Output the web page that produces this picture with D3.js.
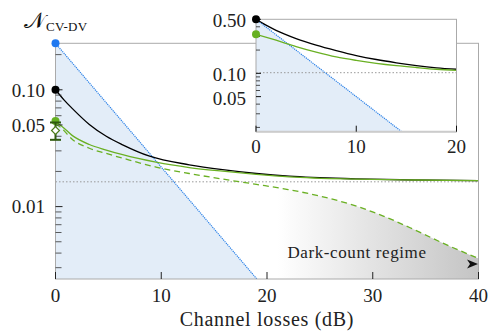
<!DOCTYPE html>
<html>
<head>
<meta charset="utf-8">
<script src="https://cdn.jsdelivr.net/npm/d3@7"></script>
<style>
  body { margin: 0; background: #fff; }
</style>
</head>
<body>
<svg id="canvas" width="488" height="332"></svg>
<script>
// ---- data ----
// main panel: x = channel losses (dB), y = N_CV-DV (log)
const blueLine = [[0, 0.25], [20, 0.0019]];
const blackCurve = [[0, 0.1], [0.8, 0.082], [1.6, 0.069], [3.2, 0.0505], [4.8, 0.0400], [6.35, 0.0338],
  [8.9, 0.0270], [12.65, 0.0228], [15.8, 0.0207], [19, 0.0192], [22.1, 0.0182], [28.4, 0.0173],
  [34, 0.0169], [40, 0.0167]];
const greenCurve = [[0, 0.053], [0.5, 0.0495], [1.6, 0.0405], [3.2, 0.0340], [4.8, 0.0305], [6.35, 0.0278],
  [9.5, 0.0240], [12.65, 0.0216], [15.8, 0.0201], [19, 0.0189], [22.1, 0.0180], [28.4, 0.0172],
  [34, 0.0169], [40, 0.0167]];
const greenDashed = [[0, 0.051], [0.5, 0.0475], [1.6, 0.0375], [3.2, 0.0316], [4.8, 0.0285], [6.35, 0.0260],
  [9.5, 0.0218], [12.65, 0.0192], [15.8, 0.0172], [19, 0.0155], [22, 0.0140], [25, 0.0123],
  [28, 0.0104], [31, 0.0083], [34, 0.0063], [37, 0.0047], [40, 0.0036]];
const dottedLevel = 0.0163;
const startDots = [{ y: 0.25, c: "#1f78f0" }, { y: 0.1, c: "#000" }, { y: 0.054, c: "#66b022" }];
const expPoint = { y: 0.0448, lo: 0.0373, hi: 0.0525 };

const xTicks = [0, 10, 20, 30, 40];
const yLabels = [0.1, 0.05, 0.01];
const yMinor = [0.003, 0.004, 0.005, 0.006, 0.007, 0.008, 0.009, 0.02, 0.03, 0.04, 0.06, 0.07, 0.08, 0.09, 0.2];

// inset panel
const insetBlue = [[0, 0.5], [20, 0.005]];
const insetBlack = [[0, 0.5], [1, 0.42], [2, 0.36], [4, 0.282], [6, 0.232], [8, 0.197], [10, 0.170],
  [12, 0.151], [14, 0.137], [16, 0.126], [18, 0.118], [20, 0.113]];
const insetGreen = [[0, 0.32], [2, 0.268], [4, 0.222], [6, 0.188], [8, 0.163], [10, 0.147],
  [12, 0.135], [14, 0.126], [16, 0.119], [18, 0.113], [20, 0.109]];
const insetDotted = 0.102;
const insetXTicks = [0, 10, 20];
const insetYLabels = [0.5, 0.1, 0.05];
const insetYMinor = [0.02, 0.03, 0.04, 0.06, 0.07, 0.08, 0.09, 0.2, 0.3, 0.4];

const FONT = "Liberation Serif";

const svg = d3.select("svg#canvas");
const fmt = d3.format(".2f");

const x = d3.scaleLinear().domain([0, 40]).range([55.5, 478.5]);
const y = d3.scaleLog().domain([0.0024, 0.25]).range([279, 43.3]);

const defs = svg.append("defs");
defs.append("clipPath").attr("id", "clipMain").append("rect")
  .attr("x", x(0)).attr("y", y(0.25)).attr("width", x(40) - x(0)).attr("height", y(0.0024) - y(0.25));

const grad = defs.append("linearGradient").attr("id", "dark")
  .attr("gradientUnits", "userSpaceOnUse")
  .attr("x1", x(21)).attr("x2", x(40)).attr("y1", 0).attr("y2", 0);
grad.append("stop").attr("offset", 0).attr("stop-color", "#fff");
grad.append("stop").attr("offset", 1).attr("stop-color", "#c4c4c4");

const line = (sx, sy) => d3.line().x((d) => sx(d[0])).y((d) => sy(d[1])).curve(d3.curveMonotoneX);

const main = svg.append("g").attr("clip-path", "url(#clipMain)");

// blue shaded region below the blue bound
main.append("path")
  .datum(blueLine)
  .attr("fill", "#e3edf8")
  .attr("d", d3.area().x((d) => x(d[0])).y0(y(0.0024)).y1((d) => y(d[1])));

// dark-count region under the dashed curve
main.append("path")
  .datum(greenDashed.filter((d) => d[0] >= 19))
  .attr("fill", "url(#dark)")
  .attr("d", d3.area().x((d) => x(d[0])).y0(y(0.0024)).y1((d) => y(d[1])).curve(d3.curveMonotoneX));

main.append("line")
  .attr("x1", x(0)).attr("x2", x(40)).attr("y1", y(dottedLevel)).attr("y2", y(dottedLevel))
  .attr("stroke", "#999").attr("stroke-width", 1).attr("stroke-dasharray", "1.5,2");

main.append("path").datum(blueLine).attr("fill", "none")
  .attr("stroke", "#2a80e8").attr("stroke-width", 1.2).attr("stroke-dasharray", "1.2,0.9")
  .attr("d", line(x, y));

main.append("path").datum(blackCurve).attr("fill", "none")
  .attr("stroke", "#000").attr("stroke-width", 1.3).attr("d", line(x, y));

main.append("path").datum(greenDashed).attr("fill", "none")
  .attr("stroke", "#6ab023").attr("stroke-width", 1.3).attr("stroke-dasharray", "6,4")
  .attr("d", line(x, y));

main.append("path").datum(greenCurve).attr("fill", "none")
  .attr("stroke", "#6ab023").attr("stroke-width", 1.3).attr("d", line(x, y));

// frame
svg.append("rect")
  .attr("x", x(0)).attr("y", y(0.25)).attr("width", x(40) - x(0)).attr("height", y(0.0024) - y(0.25))
  .attr("fill", "none").attr("stroke", "#aaa").attr("stroke-width", 1);

// x axis ticks (inward)
const xAxis = svg.append("g").attr("font-family", FONT).attr("fill", "#222");
xAxis.selectAll("line").data(xTicks).enter().append("line")
  .attr("x1", (d) => x(d)).attr("x2", (d) => x(d))
  .attr("y1", y(0.0024)).attr("y2", y(0.0024) - 7)
  .attr("stroke", "#222").attr("stroke-width", 1);
xAxis.selectAll("text").data(xTicks).enter().append("text")
  .attr("x", (d) => x(d)).attr("y", 302)
  .attr("text-anchor", "middle").attr("font-size", 19)
  .text((d) => d);

svg.append("text").attr("x", (x(0) + x(40)) / 2).attr("y", 326)
  .attr("font-family", FONT).attr("fill", "#222")
  .attr("text-anchor", "middle").attr("font-size", 20).attr("letter-spacing", 0.7)
  .text("Channel losses (dB)");

// y axis ticks
const yAxis = svg.append("g").attr("font-family", FONT).attr("fill", "#222");
yAxis.selectAll("line.minor").data(yMinor).enter().append("line")
  .attr("x1", x(0)).attr("x2", x(0) + 6)
  .attr("y1", (d) => y(d)).attr("y2", (d) => y(d))
  .attr("stroke", "#333").attr("stroke-width", 0.8);
yAxis.selectAll("line.major").data(yLabels).enter().append("line")
  .attr("x1", x(0)).attr("x2", x(0) + 7)
  .attr("y1", (d) => y(d)).attr("y2", (d) => y(d))
  .attr("stroke", "#222").attr("stroke-width", 1);
yAxis.selectAll("text").data(yLabels).enter().append("text")
  .attr("x", 45).attr("y", (d) => y(d) + 6.8)
  .attr("text-anchor", "end").attr("font-size", 19)
  .text((d) => fmt(d));

// points at zero loss
svg.selectAll("circle.start").data(startDots).enter().append("circle")
  .attr("cx", x(0)).attr("cy", (d) => y(d.y)).attr("r", 4).attr("fill", (d) => d.c);

// experimental point with error bar
const eb = svg.append("g").attr("stroke", "#2f5a0f").attr("stroke-width", 2);
eb.append("line").attr("x1", x(0)).attr("x2", x(0)).attr("y1", y(expPoint.lo)).attr("y2", y(expPoint.hi));
eb.append("line").attr("x1", x(0) - 5.5).attr("x2", x(0) + 5.5).attr("y1", y(expPoint.lo)).attr("y2", y(expPoint.lo));
eb.append("line").attr("x1", x(0) - 5.5).attr("x2", x(0) + 5.5).attr("y1", y(expPoint.hi)).attr("y2", y(expPoint.hi));
svg.append("path")
  .attr("d", d3.symbol(d3.symbolDiamond2, 40)())
  .attr("transform", `translate(${x(0)},${y(expPoint.y)})`)
  .attr("fill", "#fff").attr("stroke", "#4a7a18").attr("stroke-width", 1.2);

// dark-count label and arrow head
svg.append("text").attr("x", 357).attr("y", 258)
  .attr("font-family", FONT).attr("fill", "#222")
  .attr("text-anchor", "middle").attr("font-size", 17).attr("letter-spacing", 0.6)
  .text("Dark-count regime");
svg.append("path")
  .attr("d", "M478,264 L467,259.5 L470,264 L467,268.5 Z")
  .attr("fill", "#111");

// y label
const yl = svg.append("text").attr("x", 24).attr("y", 28).attr("font-size", 22)
  .attr("font-family", FONT).attr("fill", "#111");
yl.append("tspan").text("\u{1D4A9}");
yl.append("tspan").attr("font-size", 13).attr("dy", 3).attr("dx", 1).attr("letter-spacing", 0.3).text("CV-DV");

// ---- inset ----
const xi = d3.scaleLinear().domain([0, 20]).range([256, 456.5]);
const yi = d3.scaleLog().domain([0.0176, 0.5]).range([131.7, 19.3]);

defs.append("clipPath").attr("id", "clipInset").append("rect")
  .attr("x", xi(0)).attr("y", yi(0.5)).attr("width", xi(20) - xi(0)).attr("height", yi(0.0176) - yi(0.5));

svg.append("rect")
  .attr("x", xi(0)).attr("y", yi(0.5)).attr("width", xi(20) - xi(0)).attr("height", yi(0.0176) - yi(0.5))
  .attr("fill", "#fff");

const ins = svg.append("g").attr("clip-path", "url(#clipInset)");
ins.append("path").datum(insetBlue).attr("fill", "#e3edf8")
  .attr("d", d3.area().x((d) => xi(d[0])).y0(yi(0.0176)).y1((d) => yi(d[1])));
ins.append("line")
  .attr("x1", xi(0)).attr("x2", xi(20)).attr("y1", yi(insetDotted)).attr("y2", yi(insetDotted))
  .attr("stroke", "#999").attr("stroke-width", 1).attr("stroke-dasharray", "1.5,2");
ins.append("path").datum(insetBlue).attr("fill", "none")
  .attr("stroke", "#2a80e8").attr("stroke-width", 1.2).attr("stroke-dasharray", "1.2,0.9")
  .attr("d", line(xi, yi));
ins.append("path").datum(insetBlack).attr("fill", "none")
  .attr("stroke", "#000").attr("stroke-width", 1.3).attr("d", line(xi, yi));
ins.append("path").datum(insetGreen).attr("fill", "none")
  .attr("stroke", "#6ab023").attr("stroke-width", 1.3).attr("d", line(xi, yi));

svg.append("rect")
  .attr("x", xi(0)).attr("y", yi(0.5)).attr("width", xi(20) - xi(0)).attr("height", yi(0.0176) - yi(0.5))
  .attr("fill", "none").attr("stroke", "#aaa").attr("stroke-width", 1);
svg.append("line")
  .attr("x1", xi(0)).attr("x2", xi(20)).attr("y1", yi(0.0176)).attr("y2", yi(0.0176))
  .attr("stroke", "#ccc").attr("stroke-width", 2);

const ixAxis = svg.append("g").attr("font-family", FONT).attr("fill", "#222");
ixAxis.selectAll("line").data(insetXTicks).enter().append("line")
  .attr("x1", (d) => xi(d)).attr("x2", (d) => xi(d))
  .attr("y1", yi(0.0176)).attr("y2", yi(0.0176) - 6)
  .attr("stroke", "#111").attr("stroke-width", 1);
ixAxis.selectAll("text").data(insetXTicks).enter().append("text")
  .attr("x", (d) => xi(d)).attr("y", 153)
  .attr("text-anchor", "middle").attr("font-size", 19)
  .text((d) => d);

const iyAxis = svg.append("g").attr("font-family", FONT).attr("fill", "#222");
iyAxis.selectAll("line.minor").data(insetYMinor).enter().append("line")
  .attr("x1", xi(0)).attr("x2", xi(0) + 4)
  .attr("y1", (d) => yi(d)).attr("y2", (d) => yi(d))
  .attr("stroke", "#222").attr("stroke-width", 0.8);
iyAxis.selectAll("line.major").data(insetYLabels).enter().append("line")
  .attr("x1", xi(0)).attr("x2", xi(0) + 5)
  .attr("y1", (d) => yi(d)).attr("y2", (d) => yi(d))
  .attr("stroke", "#111").attr("stroke-width", 1);
iyAxis.selectAll("text").data(insetYLabels).enter().append("text")
  .attr("x", 246).attr("y", (d) => yi(d) + 8)
  .attr("text-anchor", "end").attr("font-size", 19)
  .text((d) => fmt(d));

svg.append("circle").attr("cx", xi(0)).attr("cy", yi(0.5)).attr("r", 4).attr("fill", "#000");
svg.append("circle").attr("cx", xi(0)).attr("cy", yi(0.32)).attr("r", 4).attr("fill", "#66b022");
</script>
</body>
</html>
